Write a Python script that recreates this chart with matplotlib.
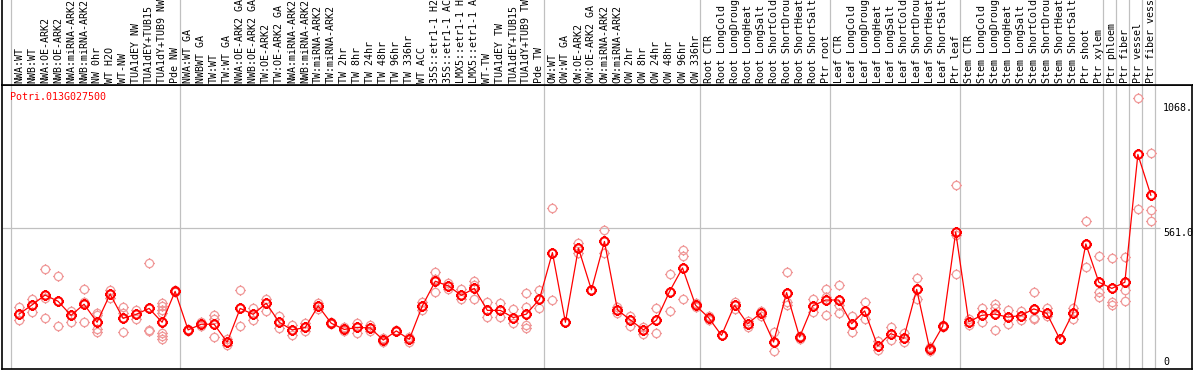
import matplotlib
matplotlib.use("Agg")
import matplotlib.pyplot as plt
from matplotlib.path import Path
from matplotlib.transforms import blended_transform_factory
import numpy as np

gene = "Potri.013G027500"

labels = [
    "NWA:WT", "NWB:WT", "NWA:OE-ARK2", "NWB:OE-ARK2", "NWA:miRNA-ARK2", "NWB:miRNA-ARK2",
    "NW 0hr", "WT H2O", "WT-NW", "TUA1dEY NW", "TUA1dEY+TUB15", "TUA1dY+TUB9 NW", "Pde NW",
    "NWA:WT GA", "NWBWT GA", "TW:WT", "TW:WT GA", "NWA:OE-ARK2 GA", "NWB:OE-ARK2 GA",
    "TW:OE-ARK2", "TW:OE-ARK2 GA", "NWA:miRNA-ARK2", "NWB:miRNA-ARK2", "TW:miRNA-ARK2",
    "TW:miRNA-ARK2", "TW 2hr", "TW 8hr", "TW 24hr", "TW 48hr", "TW 96hr", "TW 336hr",
    "WT ACC", "35S::etr1-1 H2", "35S::etr1-1 AC", "LMX5::etr1-1 H", "LMX5::etr1-1 A",
    "WT-TW", "TUA1dEY TW", "TUA1dEY+TUB15", "TUA1dY+TUB9 TW", "Pde TW",
    "OW:WT", "OW:WT GA", "OW:OE-ARK2", "OW:OE-ARK2 GA", "OW:miRNA-ARK2", "OW:miRNA-ARK2",
    "OW 2hr", "OW 8hr", "OW 24hr", "OW 48hr", "OW 96hr", "OW 336hr",
    "Root CTR", "Root LongCold", "Root LongDroug", "Root LongHeat", "Root LongSalt",
    "Root ShortCold", "Root ShortDrou", "Root ShortHeat", "Root ShortSalt", "Ptr root",
    "Leaf CTR", "Leaf LongCold", "Leaf LongDroug", "Leaf LongHeat", "Leaf LongSalt",
    "Leaf ShortCold", "Leaf ShortDrou", "Leaf ShortHeat", "Leaf ShortSalt", "Ptr leaf",
    "Stem CTR", "Stem LongCold", "Stem LongDroug", "Stem LongHeat", "Stem LongSalt",
    "Stem ShortCold", "Stem ShortDrou", "Stem ShortHeat", "Stem ShortSalt", "Ptr shoot",
    "Ptr xylem", "Ptr phloem", "Ptr fiber", "Ptr vessel", "Ptr fiber vess",
]

group_sizes = [13, 28, 12, 10, 10, 11, 1, 1, 1, 1]

means = [
    214, 251, 291, 266, 209, 254, 181, 295, 197, 213, 237, 181, 306,
    150, 173, 173, 100, 237, 213, 258, 181, 150, 160, 247, 177, 152, 160, 158, 109, 146,
    112, 247, 347, 328, 290, 318, 229, 229, 200, 214, 274,
    463, 181, 481, 312, 508, 231, 190, 150, 190, 305, 401, 250,
    200, 128, 250, 175, 217, 101, 301, 121, 247, 271,
    271, 175, 227, 85, 135, 116, 314, 73, 165, 546,
    183, 209, 214, 202, 208, 235, 217, 113, 218, 498, 343,
    318, 343, 860, 695,
]

replicates = [
    [241, 190], [274, 224], [395, 278, 197], [368, 165], [227, 181], [314, 264, 181],
    [220, 210, 155, 140], [312, 278], [241, 220, 140], [231, 194], [421, 150, 144],
    [260, 247, 231, 220, 139, 127, 112], [310, 302],
    [155, 144], [181, 166], [209, 193, 120], [112, 88], [310, 165], [237, 190], [275, 228],
    [206, 159], [169, 129], [179, 144], [258, 236], [183, 172], [160, 146], [179, 139],
    [169, 147], [116, 100], [148, 144], [123, 102], [263, 230], [384, 355, 302], [341, 315],
    [314, 274], [347, 330, 276], [262, 201], [259, 204], [233, 177], [299, 241, 170, 159],
    [310, 240],
    [643, 271], [181, 181], [502, 460], [312, 312], [554, 463], [244, 217], [208, 167],
    [163, 133], [237, 136], [375, 227], [473, 448, 274], [258, 242],
    [208, 190], [128, 128], [263, 235], [185, 160], [225, 208], [140, 63], [383, 263, 251],
    [127, 113], [274, 224], [314, 284, 209],
    [330, 251, 217], [205, 140], [263, 196], [106, 67], [162, 108], [139, 100], [359, 274],
    [80, 66], [170, 160], [735, 533, 375],
    [196, 170], [237, 181], [256, 237, 150], [231, 174], [228, 190], [304, 200, 194],
    [239, 206], [113, 113], [237, 193], [591, 498, 405], [449, 302, 285],
    [441, 263, 250], [444, 313, 266], [1087, 638], [864, 634, 591],
]

ytick_values = [0.0, 561.0, 1068.0]
ytick_texts = ["0", "561.0", "1068."]

# ---------------- layout ----------------
W, H = 1194, 370
fig = plt.figure(figsize=(W / 100, H / 100), dpi=100)

PX0, PX1 = 2, 1192      # plot frame horizontal extent (px)
PY_TOP, PY_BOT = 85, 369  # plot frame vertical extent (px from top)
X0_PX, DX_PX = 19.0, 13.01
ZERO_PX, UNITS_PER_PX = 367.0, 4.046

xlim = ((PX0 - X0_PX) / DX_PX, (PX1 - X0_PX) / DX_PX)
ylim = ((ZERO_PX - PY_BOT) * UNITS_PER_PX, (ZERO_PX - PY_TOP) * UNITS_PER_PX)

ax = fig.add_axes([PX0 / W, (H - PY_BOT) / H, (PX1 - PX0) / W, (PY_BOT - PY_TOP) / H])
lax = fig.add_axes([PX0 / W, (H - PY_TOP) / H, (PX1 - PX0) / W, PY_TOP / H])

GRAY = "#c0c0c0"
RED = "#ff0000"
PINK = "#f09898"
MONO = "DejaVu Sans Mono"
FS = 7.2

for a in (ax, lax):
    a.set_xlim(*xlim)
    a.set_xticks([])
    a.set_yticks([])
    for s in a.spines.values():
        s.set_linewidth(1.2)
        s.set_color("black")
ax.set_ylim(*ylim)
lax.set_ylim(0, PY_TOP)
lax.spines["right"].set_visible(False)
lax.spines["top"].set_visible(False)

# separators
n = len(labels)
bounds = np.cumsum(group_sizes) - 1 + 0.35
seps = [-0.65] + list(bounds)
for s in seps:
    ax.axvline(s, color=GRAY, lw=0.9, zorder=1)
    lax.axvline(s, color=GRAY, lw=0.9, zorder=1)

# horizontal grid at middle tick
grid_xmax = (1160 - X0_PX) / DX_PX
ax.hlines(ytick_values[1], xlim[0], grid_xmax, color=GRAY, lw=0.9, zorder=1)

# marker: circle with small outer ticks
circ = Path.unit_circle()
tk = 1.32
ticks = Path([(0, 1.0), (0, tk), (0, -1.0), (0, -tk), (1.0, 0), (tk, 0), (-1.0, 0), (-tk, 0)],
             [Path.MOVETO, Path.LINETO] * 4)
mpath = Path.make_compound_path(circ, ticks)

x = np.arange(n)
rx = np.concatenate([[i] * len(r) for i, r in enumerate(replicates)])
ry = np.concatenate([r for r in replicates])
ax.plot(rx, ry, linestyle="none", marker=mpath, markersize=7.8, markerfacecolor="none",
        markeredgecolor=PINK, markeredgewidth=0.9, zorder=2)
ax.plot(x, means, color=RED, lw=0.9, zorder=3)
ax.plot(x, means, linestyle="none", marker=mpath, markersize=7.8, markerfacecolor="none",
        markeredgecolor=RED, markeredgewidth=1.5, zorder=4)

# labels
for i, lab in enumerate(labels):
    lax.text(i, 2, lab, rotation=90, ha="center", va="bottom", family=MONO,
             fontsize=FS, color="black")

# gene title
ax.text(10 / W * 0 + (10 - PX0) / (PX1 - PX0), (PY_BOT - 92) / (PY_BOT - PY_TOP), gene,
        transform=ax.transAxes, ha="left", va="top", family=MONO, fontsize=FS, color=RED)

# y tick labels on the right
tx = (1163 - X0_PX) / DX_PX
for v, t in zip(ytick_values, ytick_texts):
    ax.text(tx, v, t, ha="left", va=("bottom" if v == 0 else "top"), family=MONO,
            fontsize=FS, color="black", clip_on=False)

fig.savefig("out.png", dpi=100)
